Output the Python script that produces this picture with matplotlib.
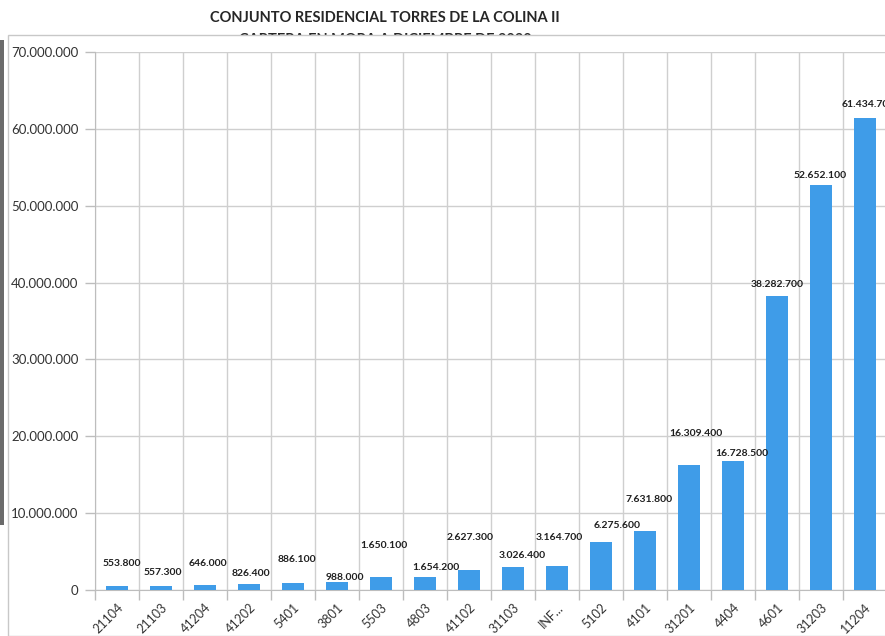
import matplotlib
matplotlib.use("Agg")
import matplotlib.pyplot as plt
from matplotlib.patches import Rectangle
from matplotlib.ticker import FuncFormatter, MultipleLocator, FixedLocator
from matplotlib.transforms import ScaledTranslation

plt.rcParams['font.family'] = ['Lato', 'DejaVu Sans']

categories = ["21104", "21103", "41204", "41202", "5401", "3801", "5503", "4803",
              "41102", "31103", "INF...", "5102", "4101", "31201", "4404", "4601",
              "31203", "11204"]
values = [553800, 557300, 646000, 826400, 886100, 988000, 1650100, 1654200,
          2627300, 3026400, 3164700, 6275600, 7631800, 16309400, 16728500,
          38282700, 52652100, 61434700]
# label offsets from bar top (pixels: dx, dy) - layout only
label_offsets = [(5, 22), (2, 13), (3, 22), (2, 10), (4, 24), (8, 5), (3, 32), (11, 10),
                 (1, 32), (9, 11), (2, 28), (16, 16), (4, 32), (7, 31), (9, 8),
                 (0, 11), (-1, 10), (3, 13)]

W, H = 885, 636
fig = plt.figure(figsize=(W / 100, H / 100), dpi=100)
fig.patch.set_facecolor('white')

def fx(px):
    return px / W

def fy(py):
    return 1 - py / H

# titles
fig.text(fx(385), fy(18), "CONJUNTO RESIDENCIAL TORRES DE LA COLINA II",
         ha='center', va='center', fontsize=10.5, fontweight='bold', color='#262626')
fig.text(fx(385), fy(40), "CARTERA EN MORA A DICIEMBRE DE 2020",
         ha='center', va='center', fontsize=10.5, fontweight='bold', color='#262626', zorder=-2)
# chart box covering the second title line
fig.add_artist(Rectangle((fx(8), 0), 1 - fx(8) + 0.01, fy(35), transform=fig.transFigure,
                         facecolor='white', edgecolor='#c8c8c8', linewidth=1.0, zorder=-1))
# scan edge strip
fig.add_artist(Rectangle((0, fy(525)), fx(4), fy(40) - fy(525), transform=fig.transFigure,
                         facecolor='#6a6a6a', edgecolor='none', zorder=-1))

ax = fig.add_axes([fx(95), fy(590), fx(792), fy(52) - fy(590)])
ax.set_facecolor('none')

x = list(range(len(categories)))
ax.bar(x, values, width=0.5, color='#3f9ce8', zorder=3)

ax.set_xlim(-0.5, len(categories) - 0.5)
ax.set_ylim(0, 70000000)
ax.yaxis.set_major_locator(MultipleLocator(10000000))
ax.yaxis.set_major_formatter(FuncFormatter(lambda v, p: f"{int(v):,}".replace(",", ".")))

ax.set_xticks(x)
ax.set_xticklabels(categories, rotation=45, ha='right', va='top', rotation_mode='anchor',
                   fontsize=9, color='#333333')
shift = ScaledTranslation(5 / 100, 0, fig.dpi_scale_trans)
for lab in ax.get_xticklabels():
    lab.set_transform(lab.get_transform() + shift)
ax.xaxis.set_minor_locator(FixedLocator([i - 0.5 for i in range(len(categories) + 1)]))
ax.tick_params(axis='x', which='major', length=0, pad=8)
ax.tick_params(axis='x', which='minor', length=7, color='#bdbdbd', width=1)
ax.tick_params(axis='y', which='major', length=7, color='#bdbdbd', width=1,
               labelsize=9.5, labelcolor='#333333', pad=5)

ax.grid(axis='y', which='major', color='#cfcfcf', linewidth=1, zorder=0)
ax.grid(axis='x', which='minor', color='#cfcfcf', linewidth=1, zorder=0)
ax.grid(axis='x', which='major', visible=False)

for s in ['top', 'right']:
    ax.spines[s].set_visible(False)
for s in ['left', 'bottom']:
    ax.spines[s].set_color('#bdbdbd')

for i, (v, (dx, dy)) in enumerate(zip(values, label_offsets)):
    lbl = f"{v:,}".replace(",", ".")
    ax.annotate(lbl, xy=(i, v), xytext=(dx * 0.72, dy * 0.72), textcoords='offset points',
                ha='center', va='center', fontsize=7.5, fontweight='bold', color='#1f1f1f',
                zorder=5, annotation_clip=False)

fig.savefig("out.png", dpi=100)
